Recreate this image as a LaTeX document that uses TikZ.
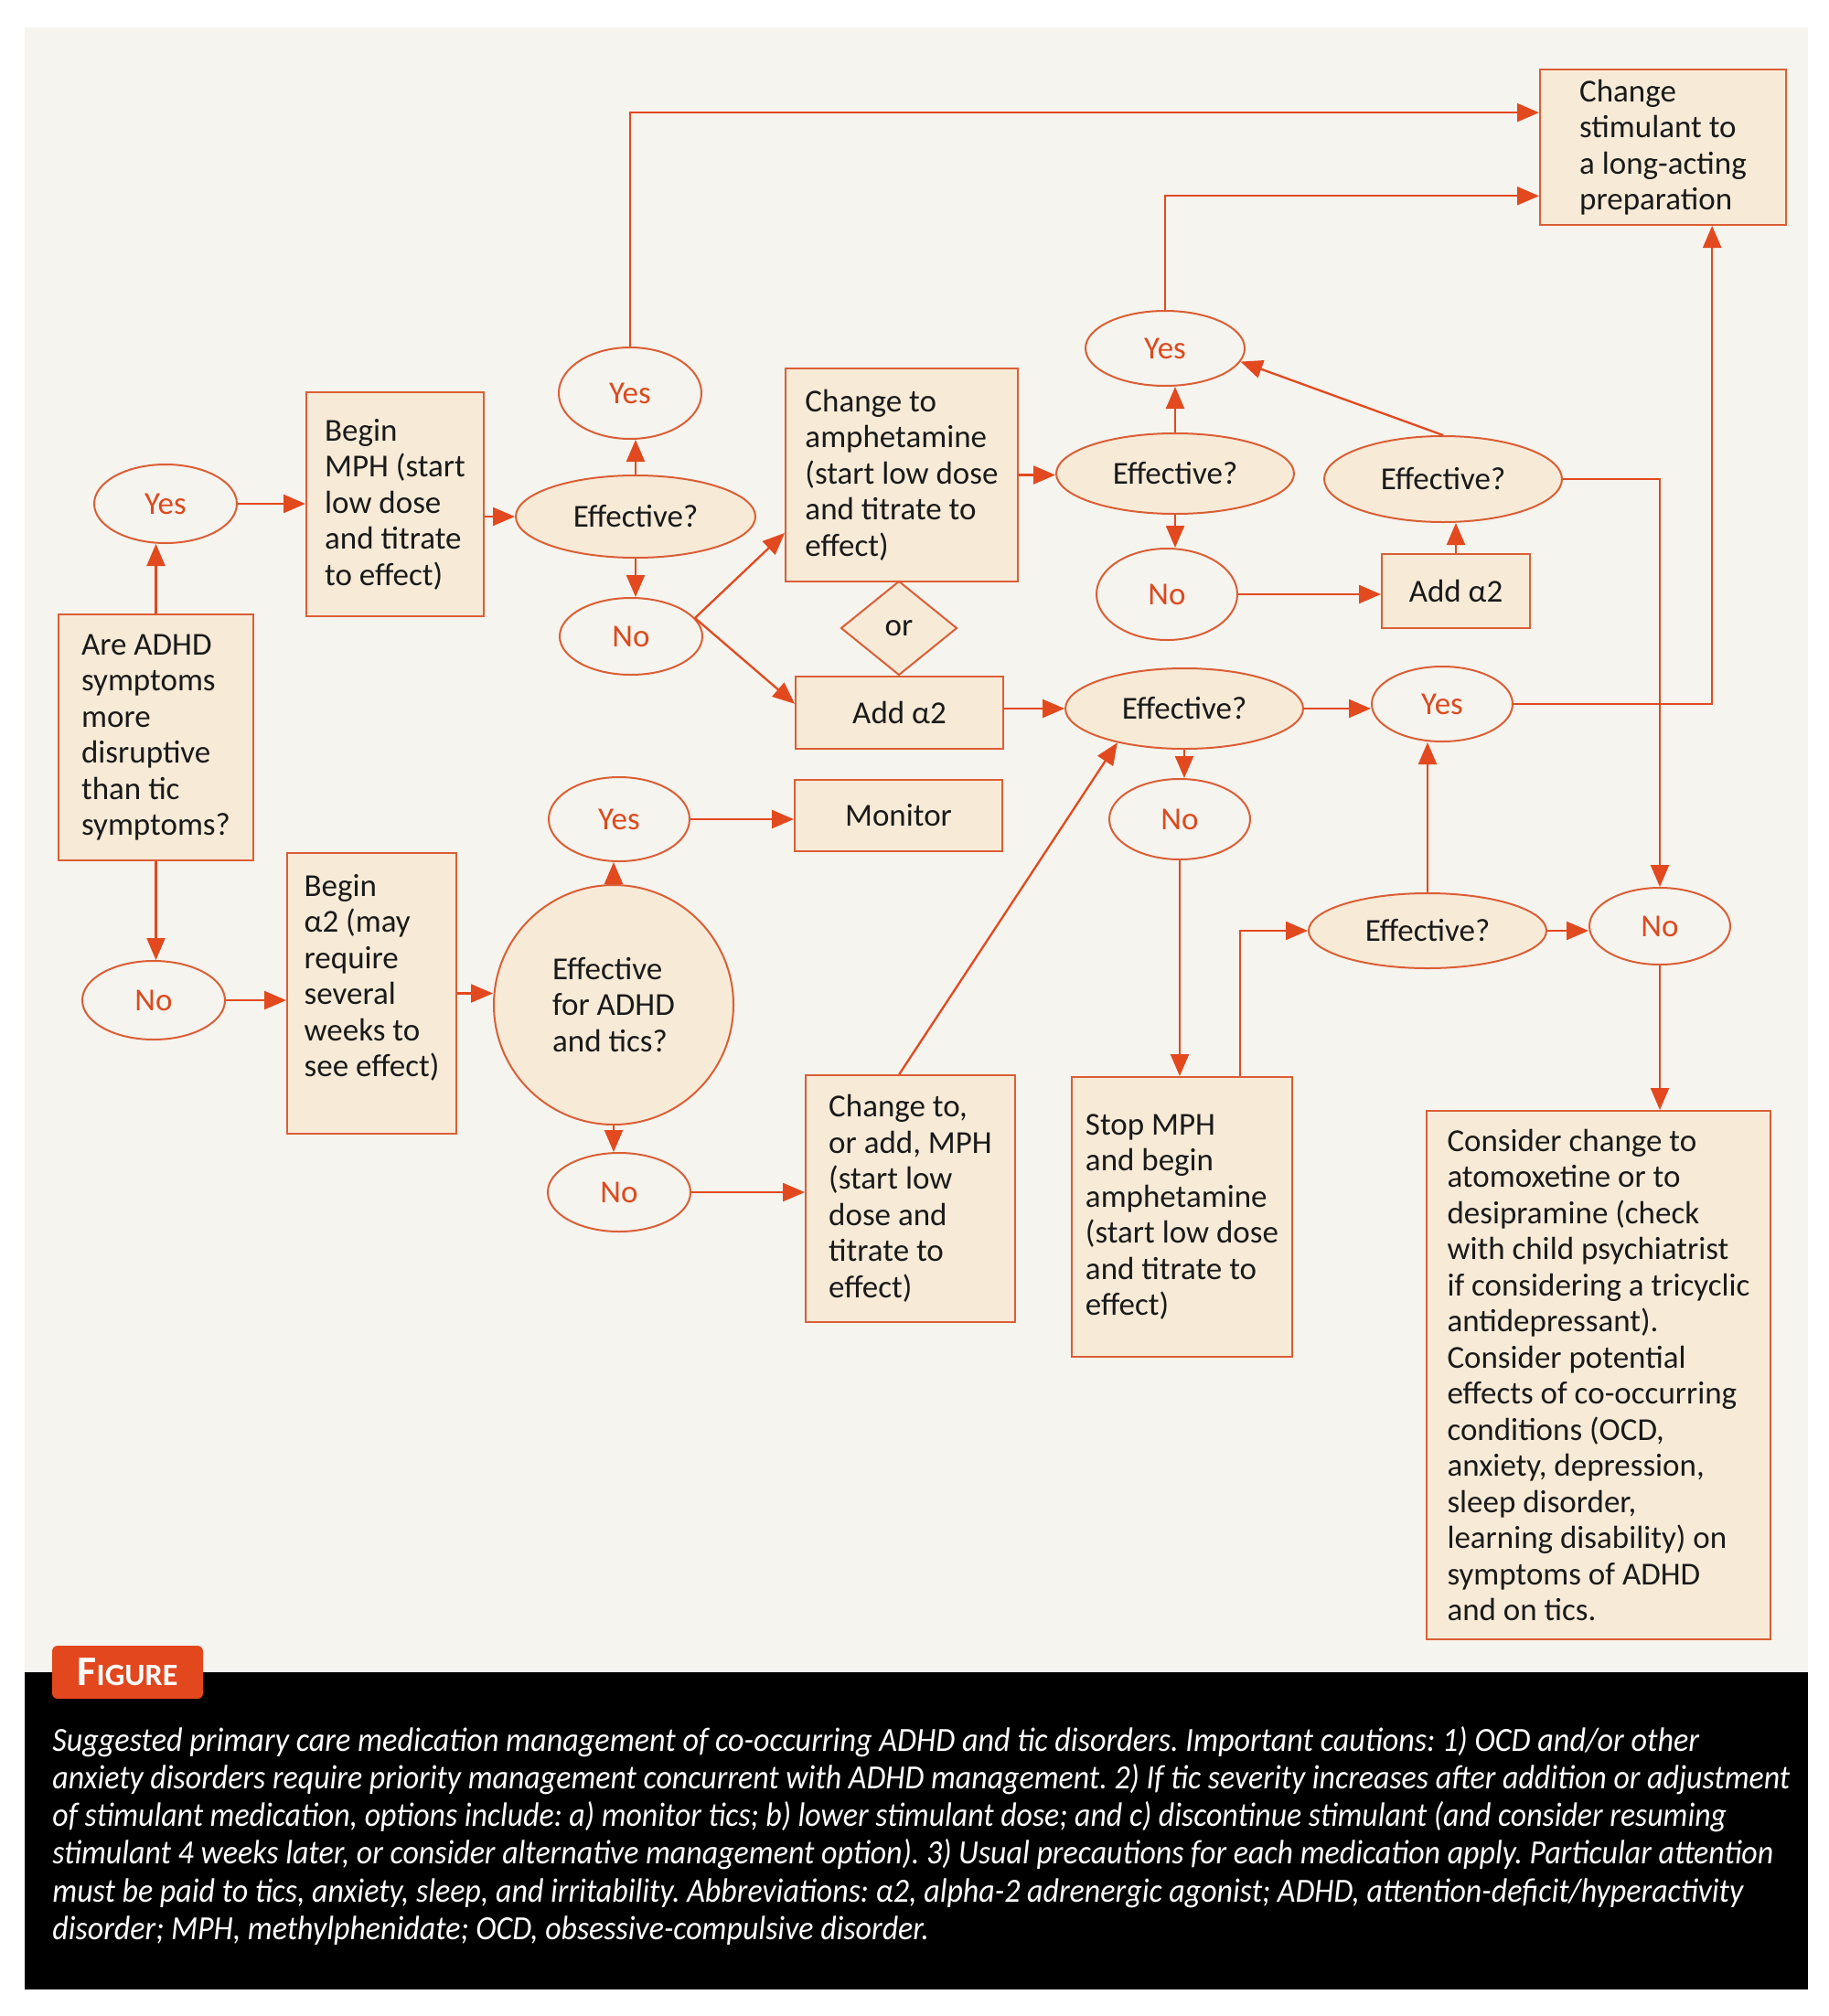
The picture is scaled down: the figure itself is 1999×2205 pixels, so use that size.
\documentclass[tikz,border=0pt]{standalone}
\usepackage{fontspec}
\usepackage{graphicx}
\setmainfont{Carlito}
\usetikzlibrary{shapes.geometric,arrows.meta,calc}
\definecolor{bgc}{HTML}{F5F4EE}
\definecolor{fillc}{HTML}{F7EBD7}
\definecolor{boxc}{HTML}{DB5E36}
\definecolor{linec}{HTML}{E2491F}
\definecolor{ync}{HTML}{DC4A1F}
\definecolor{txt}{HTML}{1A1A1A}
\definecolor{tabc}{HTML}{E2471E}
\newcommand\bodyfont{\fontsize{17.5}{19.75}\selectfont}
\newcommand\capsize{\fontsize{18.5}{21}\selectfont}
\newsavebox\capbox
\newcommand\capline[2]{\sbox\capbox{#2}\pgfmathsetmacro\capr{#1/\the\wd\capbox}\global\let\caprsaved\capr\scalebox{\capr}[1]{\usebox\capbox}}
\newcommand\caplast[1]{\scalebox{\caprsaved}[1]{#1}}
\frenchspacing
\begin{document}
\begin{tikzpicture}[x=0.5pt,y=-0.5pt,
  box/.style={rectangle, draw=boxc, fill=fillc, line width=1pt, align=left, inner sep=0pt, text=txt, font=\bodyfont},
  eff/.style={ellipse, draw=boxc, fill=fillc, line width=1pt, inner sep=0pt, text=txt, font=\bodyfont, align=center},
  yn/.style={ellipse, draw=boxc, fill=bgc, line width=1pt, inner sep=0pt, text=ync, font=\bodyfont},
  arr/.style={draw=linec, line width=1.15pt, -{Triangle[length=12pt,width=10pt]}},
  capt/.style={anchor=base west, inner sep=0pt, text=white, font=\capsize\itshape}]
\useasboundingbox (0,0) rectangle (1999,2205);
\fill[white] (0,0) rectangle (1999,2205);
\fill[bgc] (27,30) rectangle (1977,1829);
\fill[black] (27,1829) rectangle (1977,2176);

% boxes
\node[box, minimum width=134.5pt, minimum height=85pt] (stim) at (1818.5,161) {Change\\stimulant to\\a long-acting\\preparation};
\node[box, minimum width=97pt, minimum height=122.5pt] (beginMPH) at (432,551.5) {Begin\\MPH (start\\low dose\\and titrate\\to effect)};
\node[box, minimum width=127pt, minimum height=116.5pt] (amph) at (986,519.5) {Change to\\amphetamine\\(start low dose\\and titrate to\\effect)};
\node[box, minimum width=106.5pt, minimum height=134.5pt] (adhd) at (170.5,806.5) {Are ADHD\\symptoms\\more\\disruptive\\than tic\\symptoms?};
\node[box, align=center, minimum width=113.5pt, minimum height=39.5pt] (addA2mid) at (983.5,779.5) {Add α2};
\node[box, align=center, minimum width=81pt, minimum height=40.5pt] (addA2top) at (1592,646.5) {Add α2};
\node[box, align=center, minimum width=113.5pt, minimum height=39pt] (monitor) at (982.5,892) {Monitor};
\node[box, minimum width=92.5pt, minimum height=153.5pt] (beginA2) at (406.5,1086.5) {Begin\\α2 (may\\require\\several\\weeks to\\see effect)\\\mbox{}};
\node[box, minimum width=114.5pt, minimum height=135pt] (changeOrAdd) at (995.5,1311) {Change to,\\or add, MPH\\(start low\\dose and\\titrate to\\effect)};
\node[box, minimum width=120.5pt, minimum height=153pt] (stop) at (1292.5,1331) {Stop MPH\\and begin\\amphetamine\\(start low dose\\and titrate to\\effect)};
\node[box, minimum width=188pt, minimum height=289pt] (consider) at (1748,1504) {Consider change to\\atomoxetine or to\\desipramine (check\\with child psychiatrist\\if considering a tricyclic\\antidepressant).\\Consider potential\\effects of co-occurring\\conditions (OCD,\\anxiety, depression,\\sleep disorder,\\learning disability) on\\symptoms of ADHD\\and on tics.};
\node[diamond, draw=boxc, fill=fillc, line width=1pt, inner sep=0pt, text=txt, font=\bodyfont, minimum width=63.5pt, minimum height=51.5pt] (ornode) at (983,687) {or};

% decision ellipses
\node[eff, minimum width=131pt, minimum height=45pt] (eff1) at (695,565) {Effective?};
\node[eff, minimum width=130pt, minimum height=44pt] (eff2) at (1285,518) {Effective?};
\node[eff, minimum width=130pt, minimum height=47pt] (eff3) at (1578,524) {Effective?};
\node[eff, minimum width=130pt, minimum height=44pt] (eff4) at (1295,775) {Effective?};
\node[eff, minimum width=130pt, minimum height=41pt] (eff5) at (1561,1018) {Effective?};
\node[eff, align=left, minimum width=131pt, minimum height=131pt] (circ) at (671,1099) {Effective\\for ADHD\\and tics?};

% yes / no
\node[yn, minimum width=78pt, minimum height=50pt] (yesTop) at (689,430) {Yes};
\node[yn, minimum width=78pt, minimum height=43pt] (yesL) at (181,551) {Yes};
\node[yn, minimum width=78pt, minimum height=42pt] (no1) at (690,696) {No};
\node[yn, minimum width=87pt, minimum height=41pt] (yesTR) at (1274,381) {Yes};
\node[yn, minimum width=77pt, minimum height=50pt] (no3) at (1276,650) {No};
\node[yn, minimum width=77pt, minimum height=41pt] (yesMR) at (1577,770) {Yes};
\node[yn, minimum width=77pt, minimum height=44pt] (noM) at (1290,896) {No};
\node[yn, minimum width=77pt, minimum height=46pt] (yesMid) at (677,896) {Yes};
\node[yn, minimum width=78pt, minimum height=43pt] (noL) at (168,1094) {No};
\node[yn, minimum width=78pt, minimum height=43pt] (noLow) at (677,1304) {No};
\node[yn, minimum width=77pt, minimum height=42pt] (noR) at (1815,1013) {No};

% helper coordinates
\coordinate (stimA) at ($(stim.north west)!0.28!(stim.south west)$);
\coordinate (stimB) at ($(stim.north west)!0.81!(stim.south west)$);
\coordinate (stimC) at ($(stim.south west)!0.698!(stim.south east)$);
\coordinate (amphIn) at ($(amph.north west)!0.77!(amph.south west)$);
\coordinate (a2In) at ($(addA2mid.north west)!0.38!(addA2mid.south west)$);
\coordinate (stopOut) at ($(stop.north west)!0.76!(stop.north east)$);
\coordinate (coaOut) at ($(changeOrAdd.north west)!0.447!(changeOrAdd.north east)$);

% connectors
\draw[arr] (adhd.north) -- (adhd.north |- yesL.south);
\draw[arr] (adhd.south) -- (adhd.south |- noL.north);
\draw[arr] (yesL.east) -- (yesL.east -| beginMPH.west);
\draw[arr] (beginMPH.east |- eff1.west) -- (eff1.west);
\draw[arr] (eff1.north) -- (eff1.north |- yesTop.south);
\draw[arr] (eff1.south) -- (eff1.south |- no1.north);
\draw[arr] (yesTop.north) |- (stimA);
\draw[arr] (yesTR.north) |- (stimB);
\draw[arr] (no1.16) -- (amphIn);
\draw[arr] (no1.16) -- (a2In);
\draw[arr] (amph.east) -- (amph.east -| eff2.west);
\draw[arr] (eff2.north) -- (eff2.north |- yesTR.south);
\draw[arr] (eff2.south) -- (eff2.south |- no3.north);
\draw[arr] (no3.east) -- (no3.east -| addA2top.west);
\draw[arr] (addA2top.north) -- (addA2top.north |- eff3.south);
\draw[arr] (eff3.north) -- (yesTR.-10);
\draw[arr] (eff3.east) -| (noR.north);
\draw[arr] (yesMR.east) -| (stimC);
\draw[arr] (addA2mid.east |- eff4.west) -- (eff4.west);
\draw[arr] (eff4.east) -- (eff4.east -| yesMR.west);
\draw[arr] (eff4.south) -- (eff4.south |- noM.north);
\draw[arr] (noM.south) -- (noM.south |- stop.north);
\draw[arr] (stopOut) |- (eff5.west);
\draw[arr] (eff5.north) -- (eff5.north |- yesMR.south);
\draw[arr] (eff5.east) -- (eff5.east -| noR.west);
\draw[arr] (noR.south) -- (noR.south |- consider.north);
\draw[arr] (noL.east) -- (noL.east -| beginA2.west);
\draw[arr] (beginA2.east) -- (beginA2.east -| circ.west);
\draw[arr] (circ.north) -- (circ.north |- yesMid.south);
\draw[arr] (circ.south) -- (circ.south |- noLow.north);
\draw[arr] (yesMid.east) -- (yesMid.east -| monitor.west);
\draw[arr] (noLow.east) -- (noLow.east -| changeOrAdd.west);
\draw[arr] (coaOut) -- (eff4.207);

% figure tab and caption
\node[fill=tabc, rounded corners=3pt, minimum width=82.5pt, minimum height=29pt, inner sep=0pt, text=white, font=\bfseries] (tab) at (139.5,1829) {\fontsize{23}{23}\selectfont F\fontsize{17}{17}\selectfont IGURE};
\node[capt] (c1) at (57,1915) {\capline{900.5}{Suggested primary care medication management of co-occurring ADHD and tic disorders. Important cautions: 1) OCD and/or other}};
\node[capt] (c2) at (57,1956.3) {\capline{950}{anxiety disorders require priority management concurrent with ADHD management. 2) If tic severity increases after addition or adjustment}};
\node[capt] (c3) at (57,1997.6) {\capline{915.5}{of stimulant medication, options include: a) monitor tics; b) lower stimulant dose; and c) discontinue stimulant (and consider resuming}};
\node[capt] (c4) at (57,2038.9) {\capline{941}{stimulant 4 weeks later, or consider alternative management option). 3) Usual precautions for each medication apply. Particular attention}};
\node[capt] (c5) at (57,2080.2) {\capline{924.5}{must be paid to tics, anxiety, sleep, and irritability. Abbreviations: α2, alpha-2 adrenergic agonist; ADHD, attention-deficit/hyperactivity}};
\node[capt] (c6) at (57,2121.5) {\caplast{disorder; MPH, methylphenidate; OCD, obsessive-compulsive disorder.}};
\end{tikzpicture}
\end{document}
